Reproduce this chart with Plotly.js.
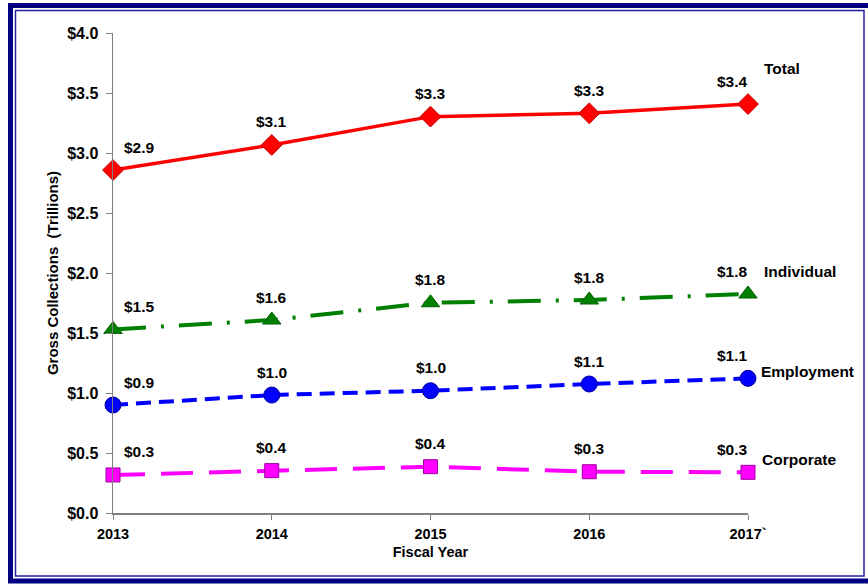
<!DOCTYPE html>
<html>
<head>
<meta charset="utf-8">
<script src="https://cdn.plot.ly/plotly-3.0.1.min.js"></script>
<style>html,body{margin:0;padding:0;background:#fff;}#chart{width:868px;height:584px;}</style>
</head>
<body>
<div id="chart"></div>
<script>
const years = [2013, 2014, 2015, 2016, 2017];
const yearLabels = ["2013", "2014", "2015", "2016", "2017`"];

const totalVals = [2.858, 3.067, 3.303, 3.331, 3.408];
const individualVals = [1.53, 1.608, 1.752, 1.775, 1.825];
const employmentVals = [0.90, 0.983, 1.019, 1.075, 1.122];
const corporateVals = [0.317, 0.353, 0.386, 0.344, 0.339];

const totalLabels = ["$2.9", "$3.1", "$3.3", "$3.3", "$3.4"];
const individualLabels = ["$1.5", "$1.6", "$1.8", "$1.8", "$1.8"];
const employmentLabels = ["$0.9", "$1.0", "$1.0", "$1.1", "$1.1"];
const corporateLabels = ["$0.3", "$0.4", "$0.4", "$0.3", "$0.3"];

const seriesNames = ["Total", "Individual", "Employment", "Corporate"];

const FONT = "Liberation Sans, Arial, sans-serif";

const series = [
  {name: seriesNames[0], y: totalVals, labels: totalLabels, color: "#FF0000", mline: "#C00000",
   symbol: "diamond", size: 16, dash: "solid", width: 3.5},
  {name: seriesNames[1], y: individualVals, labels: individualLabels, color: "#008000", mline: "#006000",
   symbol: "triangle-up", size: 16, dash: "33px,15px,3px,15px", width: 4},
  {name: seriesNames[2], y: employmentVals, labels: employmentLabels, color: "#0000FF", mline: "#0000A0",
   symbol: "circle", size: 16, dash: "15px,8px", width: 4},
  {name: seriesNames[3], y: corporateVals, labels: corporateLabels, color: "#FF00FF", mline: "#A000A0",
   symbol: "square", size: 14, dash: "32px,16px", width: 4}
];

const traces = series.map(s => ({
  type: "scatter",
  mode: "lines+markers",
  x: years,
  y: s.y,
  name: s.name,
  cliponaxis: false,
  line: {color: s.color, width: s.width, dash: s.dash},
  marker: {symbol: s.symbol, size: s.size, color: s.color, line: {color: s.mline, width: 1}},
  hoverinfo: "x+y"
}));

const annotations = [];
series.forEach(s => {
  s.y.forEach((v, i) => {
    let xs = 0;
    if (i === 0) xs = 26;
    if (i === years.length - 1) xs = -16;
    annotations.push({
      x: years[i], y: v, xref: "x", yref: "y",
      text: s.labels[i], showarrow: false,
      xanchor: "center", yanchor: "middle",
      xshift: xs, yshift: 23,
      font: {family: FONT, size: 15.5, color: "#000", weight: 700}
    });
  });
});

// series name labels at right (paper coords)
const nameLabelPos = [
  {px: 762, py: 69},
  {px: 762, py: 271},
  {px: 759, py: 371},
  {px: 760, py: 459}
];
const L = 113, R = 748, T = 33, B = 513;
seriesNames.forEach((n, i) => {
  annotations.push({
    x: (nameLabelPos[i].px - L) / (R - L),
    y: (B - nameLabelPos[i].py) / (B - T),
    xref: "paper", yref: "paper", text: n, showarrow: false,
    xanchor: "left", yanchor: "middle",
    font: {family: FONT, size: 15.5, color: "#000", weight: 700}
  });
});

function px2x(p) { return (p - L) / (R - L); }
function py2y(p) { return (B - p) / (B - T); }

const shapes = [
  {type: "rect", xref: "paper", yref: "paper",
   x0: px2x(10.5), x1: px2x(874), y0: py2y(5.5), y1: py2y(581),
   line: {color: "#000080", width: 5}, fillcolor: "rgba(0,0,0,0)", layer: "below"},
  {type: "rect", xref: "paper", yref: "paper",
   x0: px2x(15.5), x1: px2x(864), y0: py2y(10.5), y1: py2y(576),
   line: {color: "#1F1F9F", width: 1.5}, fillcolor: "rgba(0,0,0,0)", layer: "below"}
];

const layout = {
  width: 868, height: 584,
  margin: {l: L, r: 868 - R, t: T, b: 584 - B, pad: 0},
  paper_bgcolor: "#FFFFFF",
  plot_bgcolor: "#FFFFFF",
  showlegend: false,
  xaxis: {
    range: [2013, 2017],
    tickvals: years, ticktext: yearLabels,
    showgrid: false, zeroline: false,
    showline: true, linecolor: "#808080", linewidth: 1.5,
    ticks: "outside", ticklen: 5, tickcolor: "#808080",
    ticklabelstandoff: 2,
    tickfont: {family: FONT, size: 14.5, color: "#000", weight: 700},
    title: {text: "Fiscal Year", standoff: 6, font: {family: FONT, size: 14.5, color: "#000", weight: 700}}
  },
  yaxis: {
    range: [0, 4], dtick: 0.5, tick0: 0,
    tickprefix: "$", tickformat: ".1f",
    showgrid: false, zeroline: false,
    showline: true, linecolor: "#808080", linewidth: 1.5,
    ticks: "outside", ticklen: 6, tickcolor: "#808080",
    ticklabelstandoff: 4,
    tickfont: {family: FONT, size: 16, color: "#000", weight: 700},
    title: {text: "Gross Collections\u00A0 (Trillions)", standoff: 5, font: {family: FONT, size: 15, color: "#000", weight: 700}}
  },
  annotations: annotations,
  shapes: shapes
};

Plotly.newPlot("chart", traces, layout, {displayModeBar: false, staticPlot: true});
</script>
</body>
</html>
